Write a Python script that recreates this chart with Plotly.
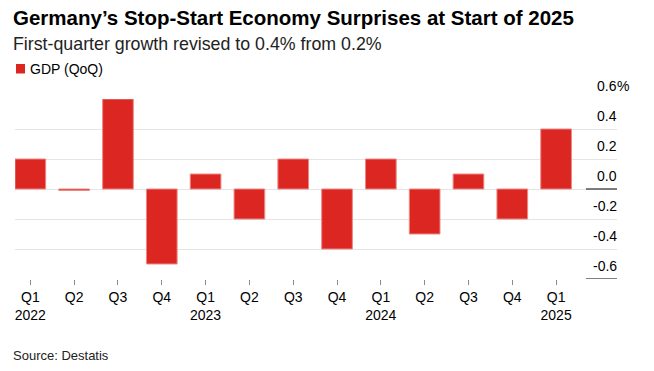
import plotly.graph_objects as go

# ---- data ----
quarters = ["Q1", "Q2", "Q3", "Q4", "Q1", "Q2", "Q3", "Q4", "Q1", "Q2", "Q3", "Q4", "Q1"]
years = ["2022", "", "", "", "2023", "", "", "", "2024", "", "", "", "2025"]
period_keys = ["2022 Q1", "2022 Q2", "2022 Q3", "2022 Q4",
               "2023 Q1", "2023 Q2", "2023 Q3", "2023 Q4",
               "2024 Q1", "2024 Q2", "2024 Q3", "2024 Q4",
               "2025 Q1"]
gdp_qoq = [0.2, -0.01, 0.6, -0.5, 0.1, -0.2, 0.2, -0.4, 0.2, -0.3, 0.1, -0.2, 0.4]
y_ticks = [-0.6, -0.4, -0.2, 0.0, 0.2, 0.4, 0.6]
y_ticktext = ["-0.6", "-0.4", "-0.2", "0.0", "0.2", "0.4", "0.6"]

title = "Germany’s Stop-Start Economy Surprises at Start of 2025"
subtitle = "First-quarter growth revised to 0.4% from 0.2%"
series_name = "GDP (QoQ)"
source = "Source: Destatis"

RED = "#dc2622"
FONT = "Liberation Sans, Arial, sans-serif"

x_ticktext = [q + ("<br>" + y if y else "") for q, y in zip(quarters, years)]

fig = go.Figure()
fig.add_trace(go.Bar(
    x=period_keys, y=gdp_qoq, name=series_name,
    marker=dict(color=RED, line=dict(color="#ec8884", width=1)),
    width=0.7, showlegend=False,
))

W, H = 654, 371
ml, mr, mt, mb = 15, 37, 99, 92
pw = W - ml - mr
ph = H - mt - mb

fig.update_layout(
    width=W, height=H,
    margin=dict(l=ml, r=mr, t=mt, b=mb, pad=0),
    paper_bgcolor="white", plot_bgcolor="white",
    font=dict(family=FONT, color="#000000", size=14),
    bargap=0.3,
    xaxis=dict(
        type="category",
        range=[-0.35, 13.39],
        tickvals=period_keys, ticktext=x_ticktext,
        ticks="outside", ticklen=5, tickwidth=1, tickcolor="#8a8a8a",
        showgrid=False, zeroline=False, showline=False,
        tickfont=dict(size=14, color="#000000", family=FONT),
    ),
    yaxis=dict(
        range=[-0.6, 0.6],
        tickvals=y_ticks,
        showticklabels=False,
        showgrid=True, gridcolor="#e4e4e4", gridwidth=1,
        zeroline=True, zerolinecolor="#e4e4e4", zerolinewidth=1,
        showline=False, ticks="",
    ),
)

# cover the bottom-edge gridline (not present in the reference)
fig.add_shape(type="line", xref="paper", yref="y", x0=0, x1=0.95, y0=-0.6, y1=-0.6,
              line=dict(color="white", width=2), layer="above")
# dark baseline stubs under the axis labels
for yv in (0.0, -0.6):
    fig.add_shape(type="line", xref="paper", yref="y", x0=(586 - ml) / pw, x1=1,
                  y0=yv, y1=yv, line=dict(color="#555555", width=1.5), layer="above")

# y-axis labels sitting above their gridlines
for v, t in zip(y_ticks, y_ticktext):
    fig.add_annotation(x=1, xref="paper", y=v, yref="y", text=t, showarrow=False,
                       xanchor="right", yanchor="middle", yshift=13,
                       borderpad=0, borderwidth=0,
                       font=dict(size=14, color="#000000", family=FONT))
fig.add_annotation(x=1, xref="paper", y=y_ticks[-1], yref="y", text="%", showarrow=False,
                   xanchor="left", yanchor="middle", yshift=13,
                   borderpad=0, borderwidth=0,
                   font=dict(size=14, color="#000000", family=FONT))

def py(pix):
    """pixel row (from top) -> paper y"""
    return (H - mb - pix) / ph

def px(pix):
    return (pix - ml) / pw

# title & subtitle
fig.add_annotation(x=px(13), xref="paper", y=py(17.5), yref="paper", text="<b>" + title + "</b>",
                   showarrow=False, xanchor="left", yanchor="middle", borderpad=0, borderwidth=0,
                   font=dict(size=20.5, color="#000000", family=FONT))
fig.add_annotation(x=px(12.5), xref="paper", y=py(43.5), yref="paper", text=subtitle,
                   showarrow=False, xanchor="left", yanchor="middle", borderpad=0, borderwidth=0,
                   font=dict(size=17.8, color="#222222", family=FONT))

# manual legend
fig.add_shape(type="rect", xref="paper", yref="paper",
              x0=px(16), x1=px(25), y0=py(73.5), y1=py(64),
              fillcolor=RED, line=dict(width=0))
fig.add_annotation(x=px(29.5), xref="paper", y=py(69), yref="paper", text=series_name,
                   showarrow=False, xanchor="left", yanchor="middle", borderpad=0, borderwidth=0,
                   font=dict(size=14, color="#000000", family=FONT))

# source
fig.add_annotation(x=px(13), xref="paper", y=py(355), yref="paper", text=source,
                   showarrow=False, xanchor="left", yanchor="middle", borderpad=0, borderwidth=0,
                   font=dict(size=13, color="#222222", family=FONT))

fig.write_html("out.html",
               config={"displayModeBar": False},
               post_script="document.body.style.margin='0';document.body.style.overflow='hidden';")
